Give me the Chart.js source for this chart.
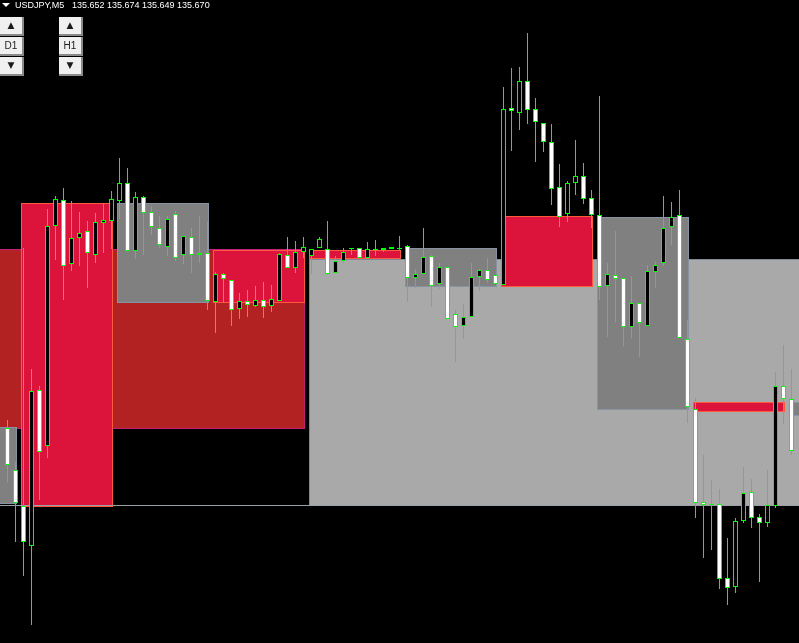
<!DOCTYPE html>
<html>
<head>
<meta charset="utf-8">
<title>USDJPY,M5</title>
<script src="https://cdn.jsdelivr.net/npm/chart.js@4.4.0/dist/chart.umd.min.js"></script>
<style>
    html, body { margin: 0; padding: 0; background: #000; overflow: hidden; }
    #wrap { position: relative; width: 799px; height: 643px; }
    canvas { display: block; }
    .hdr { position: absolute; top: 0; color: #fff; font: 9px "Liberation Sans", Arial, sans-serif; line-height: 11px; white-space: pre; }
    .tri { position: absolute; left: 2px; top: 3px; width: 0; height: 0;
           border-left: 4px solid transparent; border-right: 4px solid transparent; border-top: 4px solid #fff; }
    .btn { position: absolute; width: 22px; height: 17px; background: #f0f0f0;
           border-right: 2px solid #8a8a8a; border-bottom: 2px solid #8a8a8a;
           color: #1a1a1a; text-align: center; font: 10px "Liberation Sans", Arial, sans-serif; line-height: 17px; }
    .btn.arrow { font: 9px "DejaVu Sans", sans-serif; line-height: 17px; }
</style>
</head>
<body>
<div id="wrap">
    <canvas id="chart" width="799" height="643"></canvas>
    <div class="tri"></div>
    <div class="hdr" style="left:15px">USDJPY,M5</div>
    <div class="hdr" style="left:72px">135.652 135.674 135.649 135.670</div>
    <div class="btn arrow" style="left:0;top:17px">▲</div>
    <div class="btn" style="left:0;top:37px">D1</div>
    <div class="btn arrow" style="left:0;top:57px">▼</div>
    <div class="btn arrow" style="left:59px;top:17px">▲</div>
    <div class="btn" style="left:59px;top:37px">H1</div>
    <div class="btn arrow" style="left:59px;top:57px">▼</div>
</div>
<script>
// M5 candles, oldest on the left
const opens = [
    135.572, 135.530, 135.494, 135.454, 135.610, 135.554, 135.774, 135.800, 135.736, 135.762,
    135.769, 135.745, 135.777, 135.779, 135.799, 135.817, 135.749, 135.803, 135.788, 135.772,
    135.753, 135.786, 135.745, 135.763, 135.747, 135.747, 135.698, 135.726, 135.720, 135.691,
    135.699, 135.694, 135.700, 135.694, 135.699, 135.745, 135.732, 135.748, 135.744, 135.752,
    135.751, 135.727, 135.739, 135.752, 135.752, 135.742, 135.751, 135.752, 135.751, 135.752,
    135.754, 135.722, 135.726, 135.744, 135.716, 135.733, 135.686, 135.674, 135.683, 135.723,
    135.730, 135.725, 135.715, 135.892, 135.887, 135.919, 135.891, 135.877, 135.858, 135.813,
    135.786, 135.817, 135.824, 135.802, 135.785, 135.714, 135.725, 135.722, 135.673, 135.697,
    135.674, 135.728, 135.737, 135.773, 135.785, 135.661, 135.591, 135.498, 135.496, 135.496,
    135.422, 135.413, 135.479, 135.508, 135.483, 135.477, 135.494, 135.614, 135.601
];
const highs = [
    135.580, 135.538, 135.752, 135.631, 135.614, 135.791, 135.804, 135.812, 135.799, 135.788,
    135.779, 135.787, 135.797, 135.809, 135.842, 135.832, 135.808, 135.804, 135.794, 135.784,
    135.784, 135.789, 135.764, 135.772, 135.784, 135.778, 135.728, 135.727, 135.720, 135.707,
    135.710, 135.714, 135.718, 135.715, 135.747, 135.763, 135.759, 135.763, 135.751, 135.763,
    135.779, 135.744, 135.752, 135.752, 135.752, 135.758, 135.760, 135.752, 135.753, 135.764,
    135.755, 135.731, 135.772, 135.745, 135.737, 135.733, 135.690, 135.696, 135.737, 135.731,
    135.742, 135.725, 135.913, 135.932, 135.933, 135.967, 135.902, 135.877, 135.876, 135.836,
    135.819, 135.860, 135.837, 135.810, 135.904, 135.737, 135.769, 135.722, 135.724, 135.697,
    135.735, 135.738, 135.804, 135.798, 135.810, 135.680, 135.602, 135.545, 135.520, 135.511,
    135.462, 135.482, 135.533, 135.521, 135.486, 135.530, 135.628, 135.655, 135.631
];
const lows = [
    135.518, 135.458, 135.424, 135.375, 135.500, 135.542, 135.740, 135.700, 135.729, 135.734,
    135.712, 135.737, 135.747, 135.751, 135.781, 135.748, 135.741, 135.745, 135.765, 135.752,
    135.744, 135.739, 135.736, 135.727, 135.737, 135.690, 135.667, 135.697, 135.674, 135.681,
    135.683, 135.693, 135.682, 135.688, 135.699, 135.732, 135.727, 135.742, 135.726, 135.752,
    135.725, 135.727, 135.737, 135.745, 135.742, 135.741, 135.744, 135.748, 135.751, 135.750,
    135.698, 135.712, 135.726, 135.693, 135.711, 135.681, 135.638, 135.661, 135.683, 135.709,
    135.717, 135.716, 135.715, 135.849, 135.870, 135.876, 135.838, 135.848, 135.795, 135.773,
    135.778, 135.805, 135.796, 135.772, 135.700, 135.663, 135.678, 135.654, 135.662, 135.643,
    135.674, 135.712, 135.734, 135.755, 135.662, 135.577, 135.482, 135.442, 135.450, 135.411,
    135.395, 135.407, 135.477, 135.472, 135.418, 135.473, 135.492, 135.576, 135.545
];
const closes = [
    135.535, 135.497, 135.458, 135.609, 135.548, 135.774, 135.801, 135.734, 135.762, 135.767,
    135.747, 135.778, 135.780, 135.801, 135.817, 135.749, 135.803, 135.787, 135.773, 135.755,
    135.781, 135.742, 135.764, 135.745, 135.745, 135.699, 135.726, 135.721, 135.690, 135.699,
    135.695, 135.700, 135.693, 135.701, 135.746, 135.732, 135.748, 135.753, 135.751, 135.761,
    135.726, 135.739, 135.748, 135.751, 135.742, 135.751, 135.750, 135.750, 135.753, 135.751,
    135.722, 135.726, 135.743, 135.714, 135.733, 135.681, 135.673, 135.683, 135.723, 135.730,
    135.720, 135.716, 135.891, 135.889, 135.919, 135.890, 135.878, 135.858, 135.811, 135.783,
    135.817, 135.824, 135.801, 135.785, 135.713, 135.726, 135.721, 135.673, 135.697, 135.677,
    135.729, 135.735, 135.772, 135.783, 135.662, 135.593, 135.497, 135.495, 135.495, 135.421,
    135.412, 135.479, 135.507, 135.482, 135.477, 135.495, 135.614, 135.601, 135.549
];

// H1 boxes: first candle index of each hour, its high/low, 1 = up hour, -1 = down hour
const hourStarts = [-10, 2, 14, 26, 38, 50, 62, 74, 86, 98];
const hourHighs  = [135.573, 135.797, 135.797, 135.750, 135.750, 135.752, 135.784, 135.783, 135.598, 135.598];
const hourLows   = [135.496, 135.493, 135.697, 135.697, 135.741, 135.713, 135.713, 135.590, 135.588, 135.584];
const hourDirs   = [-1, 1, -1, 1, 1, -1, 1, -1, 1, -1];

// D1 boxes
const dayStarts = [-250, 38];
const dayHighs  = [135.751, 135.741];
const dayLows   = [135.571, 135.494];
const dayDirs   = [1, -1];

// horizontal level
const levels = [135.495];

const HOUR_BARS = 12;
const DAY_BARS = 288;

const idx = opens.map((_, i) => i);

const zonesPlugin = {
    id: 'zones',
    beforeDatasetsDraw(chart) {
        const { ctx, scales: { x, y } } = chart;
        const box = (from, to, hi, lo, fill, stroke) => {
            const l = Math.round(x.getPixelForValue(from));
            const r = Math.round(x.getPixelForValue(to));
            const t = Math.round(y.getPixelForValue(hi));
            const b = Math.round(y.getPixelForValue(lo));
            ctx.fillStyle = fill;
            ctx.fillRect(l, t, r - l, b - t);
            ctx.strokeStyle = stroke;
            ctx.lineWidth = 1;
            ctx.strokeRect(l + 0.5, t + 0.5, r - l - 1, b - t - 1);
        };
        ctx.save();
        dayStarts.forEach((s, i) => {
            const up = dayDirs[i] > 0;
            box(s - 0.3125, s + DAY_BARS - 0.8125, dayHighs[i], dayLows[i],
                up ? '#b22222' : '#a9a9a9', up ? '#c0207a' : '#7d8a9c');
        });
        hourStarts.forEach((s, i) => {
            const up = hourDirs[i] > 0;
            box(s - 0.3125, s + HOUR_BARS - 0.8125, hourHighs[i], hourLows[i],
                up ? '#dc143c' : '#808080', up ? '#ff5a40' : '#8792a2');
        });
        levels.forEach(v => {
            const py = Math.round(y.getPixelForValue(v)) + 0.5;
            ctx.strokeStyle = '#9aa0aa';
            ctx.beginPath();
            ctx.moveTo(0, py);
            ctx.lineTo(chart.width, py);
            ctx.stroke();
        });
        ctx.restore();
    }
};

function initializeChart() {
    const ctx = document.getElementById('chart').getContext('2d');
    const bull = idx.map(i => closes[i] > opens[i]);
    new Chart(ctx, {
        type: 'bar',
        data: {
            datasets: [
                {
                    label: 'body',
                    data: idx.map(i => ({ x: i, y: [Math.min(opens[i], closes[i]), Math.max(opens[i], closes[i])] })),
                    backgroundColor: bull.map(b => b ? '#000000' : '#ffffff'),
                    borderColor: '#00ff00',
                    borderWidth: 1,
                    borderSkipped: false,
                    maxBarThickness: 5,
                    minBarLength: 1,
                    inflateAmount: 0,
                    grouped: false,
                    order: 0
                },
                {
                    label: 'wick',
                    data: idx.map(i => ({ x: i, y: [lows[i], highs[i]] })),
                    backgroundColor: '#00ff00',
                    borderWidth: 0,
                    maxBarThickness: 1,
                    minBarLength: 1,
                    inflateAmount: 0,
                    grouped: false,
                    order: 1
                }
            ]
        },
        options: {
            responsive: false,
            animation: false,
            devicePixelRatio: 1,
            layout: { padding: 0 },
            plugins: { legend: { display: false }, tooltip: { enabled: false } },
            scales: {
                x: { type: 'linear', display: false, min: -0.9375, max: 98.9375, offset: false },
                y: { type: 'linear', display: false, min: 135.357, max: 136.000 }
            }
        },
        plugins: [zonesPlugin]
    });
}

document.addEventListener('DOMContentLoaded', initializeChart);
</script>
</body>
</html>
